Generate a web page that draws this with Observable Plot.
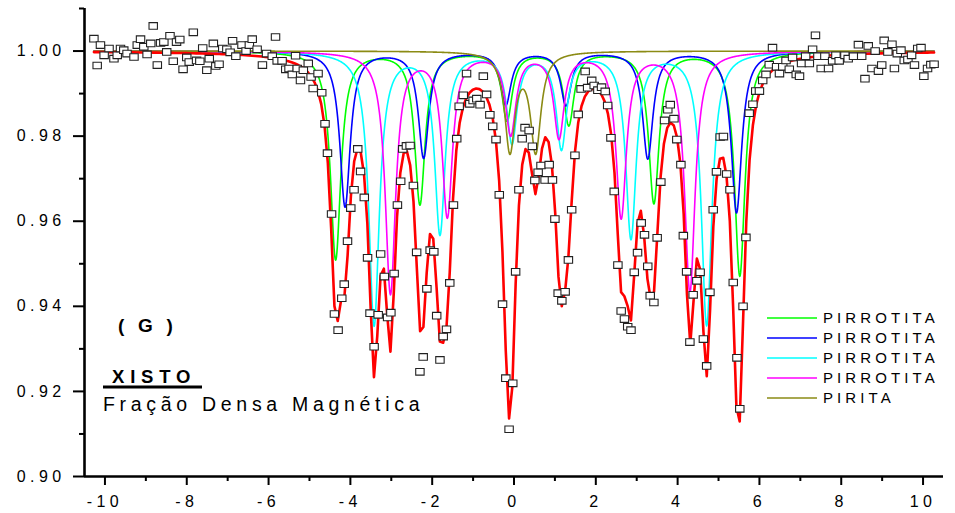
<!DOCTYPE html>
<html>
<head>
<meta charset="utf-8">
<script src="https://cdn.jsdelivr.net/npm/d3@7"></script>
<script src="https://cdn.jsdelivr.net/npm/@observablehq/plot@0.6"></script>
<style>
  html, body { margin: 0; padding: 0; background: #fff; }
  #chart { width: 955px; height: 513px; }
</style>
</head>
<body>
<div id="chart"></div>
<script>
// ---------- measured spectrum (velocity mm/s, relative transmission) ----------
const velocity = [
-10.27,-10.19,-10.11,-10.02,-9.90,-9.78,-9.70,-9.62,-9.54,-9.46,-9.29,-9.21,-9.13,-9.05,-8.97,-8.88,-8.82,-8.72,-8.64,-8.56,
-8.49,-8.41,-8.33,-8.25,-8.17,-8.09,-8.00,-7.94,-7.84,-7.76,-7.68,-7.61,-7.51,-7.45,-7.35,-7.29,-7.21,-7.12,-7.02,-6.94,
-6.88,-6.80,-6.65,-6.55,-6.47,-6.40,-6.28,-6.15,-6.05,-5.91,-5.83,-5.79,-5.67,-5.58,-5.50,-5.42,-5.34,-5.30,-5.22,-5.15,
-5.03,-4.96,-4.91,-4.79,-4.70,-4.62,-4.56,-4.46,-4.39,-4.30,-4.21,-4.15,-4.07,-3.99,-3.91,-3.82,-3.75,-3.66,-3.58,-3.52,
-3.42,-3.32,-3.26,-3.17,-3.09,-3.01,-2.93,-2.85,-2.77,-2.72,-2.63,-2.54,-2.46,-2.38,-2.30,-2.22,-2.13,-2.05,-1.96,-1.89,
-1.81,-1.73,-1.65,-1.57,-1.48,-1.40,-1.34,-1.24,-1.16,-1.08,-1.00,-0.91,-0.83,-0.75,-0.67,-0.59,-0.52,-0.44,-0.36,-0.28,
-0.20,-0.12,-0.03,0.04,0.12,0.20,0.27,0.37,0.45,0.51,0.59,0.66,0.76,0.86,0.94,1.00,1.08,1.17,1.25,1.33,
1.41,1.49,1.57,1.64,1.74,1.80,1.90,1.96,2.05,2.14,2.23,2.29,2.37,2.45,2.54,2.62,2.70,2.78,2.86,2.94,
3.02,3.11,3.19,3.27,3.33,3.42,3.50,3.59,3.68,3.76,3.82,3.91,3.98,4.08,4.14,4.22,4.30,4.38,4.47,4.55,
4.63,4.71,4.79,4.87,4.95,5.04,5.12,5.20,5.28,5.36,5.45,5.52,5.60,5.67,5.75,5.84,5.91,6.00,6.08,6.16,
6.24,6.32,6.42,6.49,6.57,6.65,6.73,6.81,6.90,6.98,7.03,7.13,7.22,7.30,7.37,7.43,7.51,7.60,7.69,7.79,
7.87,7.95,8.09,8.17,8.30,8.42,8.50,8.58,8.66,8.75,8.83,8.91,8.99,9.05,9.14,9.24,9.30,9.37,9.46,9.54,
9.63,9.72,9.79,9.87,9.95,10.02,10.11,10.19,10.27
];
const transmission = [
1.0029,0.9966,1.0014,0.9990,1.0006,0.9982,0.9990,1.0006,1.0002,0.9994,0.9986,1.0014,1.0028,1.0010,0.9992,1.0018,1.0059,0.9967,1.0019,1.0021,
0.9998,1.0036,0.9976,1.0021,1.0027,0.9957,0.9985,0.9974,1.0044,0.9978,0.9976,1.0007,0.9955,0.9982,1.0018,0.9965,0.9969,1.0006,1.0004,0.9997,
1.0024,0.9988,1.0014,1.0000,1.0014,1.0028,1.0004,0.9967,0.9994,0.9988,1.0033,0.9977,0.9977,0.9957,0.9959,0.9945,0.9989,0.9959,0.9931,0.9955,
0.9971,0.9939,0.9912,0.9947,0.9902,0.9829,0.9760,0.9617,0.9382,0.9344,0.9419,0.9452,0.9553,0.9631,0.9674,0.9770,0.9717,0.9656,0.9514,0.9384,
0.9305,0.9380,0.9523,0.9470,0.9374,0.9385,0.9477,0.9638,0.9694,0.9770,0.9777,0.9778,0.9684,0.9527,0.9246,0.9281,0.9441,0.9532,0.9528,0.9378,
0.9274,0.9329,0.9346,0.9455,0.9638,0.9794,0.9870,0.9896,0.9947,0.9876,0.9884,0.9888,0.9874,0.9941,0.9898,0.9850,0.9823,0.9792,0.9662,0.9405,
0.9231,0.9111,0.9219,0.9481,0.9674,0.9794,0.9820,0.9813,0.9776,0.9696,0.9715,0.9731,0.9697,0.9733,0.9697,0.9605,0.9431,0.9413,0.9434,0.9509,
0.9627,0.9755,0.9851,0.9911,0.9952,0.9914,0.9931,0.9919,0.9908,0.9915,0.9905,0.9872,0.9796,0.9670,0.9497,0.9389,0.9370,0.9352,0.9344,0.9480,
0.9526,0.9596,0.9568,0.9494,0.9425,0.9409,0.9561,0.9692,0.9837,0.9862,0.9874,0.9841,0.9792,0.9733,0.9566,0.9481,0.9316,0.9427,0.9460,0.9480,
0.9323,0.9260,0.9433,0.9627,0.9716,0.9798,0.9799,0.9711,0.9674,0.9456,0.9279,0.9159,0.9400,0.9562,0.9854,0.9875,0.9906,0.9906,0.9931,0.9945,
0.9968,1.0008,0.9963,0.9947,0.9963,0.9978,0.9957,0.9985,0.9945,0.9941,0.9971,0.9988,0.9971,1.0004,1.0037,0.9988,0.9959,0.9988,0.9959,0.9977,
0.9990,0.9977,0.9990,0.9982,0.9988,1.0015,0.9988,0.9935,1.0012,0.9959,1.0000,0.9953,0.9967,1.0025,0.9998,1.0016,0.9959,0.9994,1.0002,0.9978,
0.9980,0.9990,0.9967,1.0006,1.0008,0.9941,0.9959,0.9968,0.9969
];

// ---------- fitted sub-spectra: line positions (mm/s) and depths ----------
const seriesNames  = ["PIRROTITA", "PIRROTITA", "PIRROTITA", "PIRROTITA", "PIRITA"];
const seriesColors = ["#00ff00", "#0000ff", "#00ffff", "#ff00ff", "#8b8b14"];
const linePositions = [
  [-4.36, -2.30, -0.17, 1.34, 3.42, 5.52],
  [-4.13, -2.21, -0.20, 1.27, 3.27, 5.44],
  [-3.42, -1.81, -0.05, 1.16, 2.86, 4.71],
  [-3.02, -1.63, -0.08, 1.10, 2.62, 4.30],
  [-0.10, 0.53]
];
const lineDepths = [
  [0.0489, 0.0358, 0.0160, 0.0171, 0.0355, 0.0527],
  [0.0365, 0.0249, 0.0124, 0.0125, 0.0251, 0.0379],
  [0.0642, 0.0425, 0.0210, 0.0224, 0.0436, 0.0642],
  [0.0567, 0.0383, 0.0190, 0.0198, 0.0387, 0.0563],
  [0.0230, 0.0230]
];
const lineHalfWidths = [0.155, 0.155, 0.155, 0.155, 0.155];
const velocityRange = [-10.27, 10.27];
const channelCount = 256;

// ---------- axes ----------
const xDomain = [-10.5, 10.5];
const yDomain = [0.90, 1.01];
const xMajorTicks = [-10, -8, -6, -4, -2, 0, 2, 4, 6, 8, 10];
const xMinorTicks = [-9, -7, -5, -3, -1, 1, 3, 5, 7, 9];
const yMajorTicks = [0.90, 0.92, 0.94, 0.96, 0.98, 1.00];
const yMinorTicks = [0.91, 0.93, 0.95, 0.97, 0.99, 1.01];

const FONT = "'Liberation Sans', Arial, Helvetica, sans-serif";

// Lorentzian absorption of one sub-spectrum at velocity v
function absorption(k, v) {
  const g2 = lineHalfWidths[k] ** 2;
  return d3.sum(linePositions[k], (p, i) => lineDepths[k][i] * g2 / ((v - p) ** 2 + g2));
}

const [v0, v1] = velocityRange;
const fineV = d3.range(0, 2055).map(i => v0 + i * (v1 - v0) / 2054);
const channelV = d3.range(channelCount).map(i => v0 + i * (v1 - v0) / (channelCount - 1));

const componentLines = seriesNames.map((name, k) =>
  Plot.line(fineV.map(v => ({v, t: 1 - absorption(k, v)})),
    {x: "v", y: "t", stroke: seriesColors[k], strokeWidth: 1.6, curve: "linear"})
);
const totalFit = channelV.map(v => ({v, t: 1 - d3.sum(seriesNames, (n, k) => absorption(k, v))}));
const points = velocity.map((v, i) => ({v, t: transmission[i]}));

const rectSymbol = {draw(ctx) { ctx.rect(-4.2, -3.3, 8.4, 6.6); }};

const chart = Plot.plot({
  width: 955,
  height: 513,
  marginLeft: 84,
  marginRight: 12,
  marginTop: 8,
  marginBottom: 37,
  style: {fontFamily: FONT, fontSize: "16px", letterSpacing: "4.4px", color: "#000", background: "#fff"},
  x: {domain: xDomain},
  y: {domain: yDomain},
  marks: [
    ...componentLines,
    Plot.line(totalFit, {x: "v", y: "t", stroke: "#ff0000", strokeWidth: 2.6, curve: "linear"}),
    Plot.dot(points, {x: "v", y: "t", symbol: rectSymbol, r: 4, stroke: "#222", strokeWidth: 1.1, fill: "#fff"}),
    Plot.ruleX([xDomain[0]], {stroke: "#000", strokeWidth: 2.6}),
    Plot.ruleY([yDomain[0]], {stroke: "#000", strokeWidth: 2.6}),
    Plot.axisX({ticks: xMajorTicks, tickSize: 9, tickPadding: 10, tickFormat: d => String(d), strokeWidth: 2, label: null}),
    Plot.axisX({ticks: xMinorTicks, tickSize: 5, tickFormat: () => "", strokeWidth: 2, label: null}),
    Plot.axisY({ticks: yMajorTicks, tickSize: 11, tickPadding: 8, tickFormat: d3.format(".2f"), strokeWidth: 2, label: null}),
    Plot.axisY({ticks: yMinorTicks, tickSize: 5, tickFormat: () => "", strokeWidth: 2, label: null})
  ]
});

document.getElementById("chart").appendChild(chart);

// ---------- annotations ----------
const svg = d3.select(chart);
const ann = svg.append("g").attr("font-family", FONT).attr("fill", "#000").attr("text-anchor", "start");
ann.append("text").attr("x", 118).attr("y", 332).attr("font-size", 19).attr("font-weight", "bold")
  .attr("letter-spacing", 4.2).text("( G )");
ann.append("text").attr("x", 112).attr("y", 383).attr("font-size", 18.5).attr("font-weight", "bold")
  .attr("letter-spacing", 5.8).text("XISTO");
ann.append("rect").attr("x", 103).attr("y", 385.5).attr("width", 99).attr("height", 3).attr("fill", "#000");
ann.append("text").attr("x", 103).attr("y", 410.5).attr("font-size", 19.5)
  .attr("letter-spacing", 4.7).text("Fração Densa Magnética");

// ---------- legend ----------
const leg = svg.append("g").attr("font-family", FONT).attr("font-size", 15)
  .attr("letter-spacing", 4.1).attr("text-anchor", "start");
seriesNames.forEach((name, k) => {
  const y = 318 + 20 * k;
  leg.append("line").attr("x1", 767).attr("x2", 817).attr("y1", y).attr("y2", y)
    .attr("stroke", seriesColors[k]).attr("stroke-width", 1.6);
  leg.append("text").attr("x", 823).attr("y", y + 5).attr("fill", "#000").text(name);
});
</script>
</body>
</html>
